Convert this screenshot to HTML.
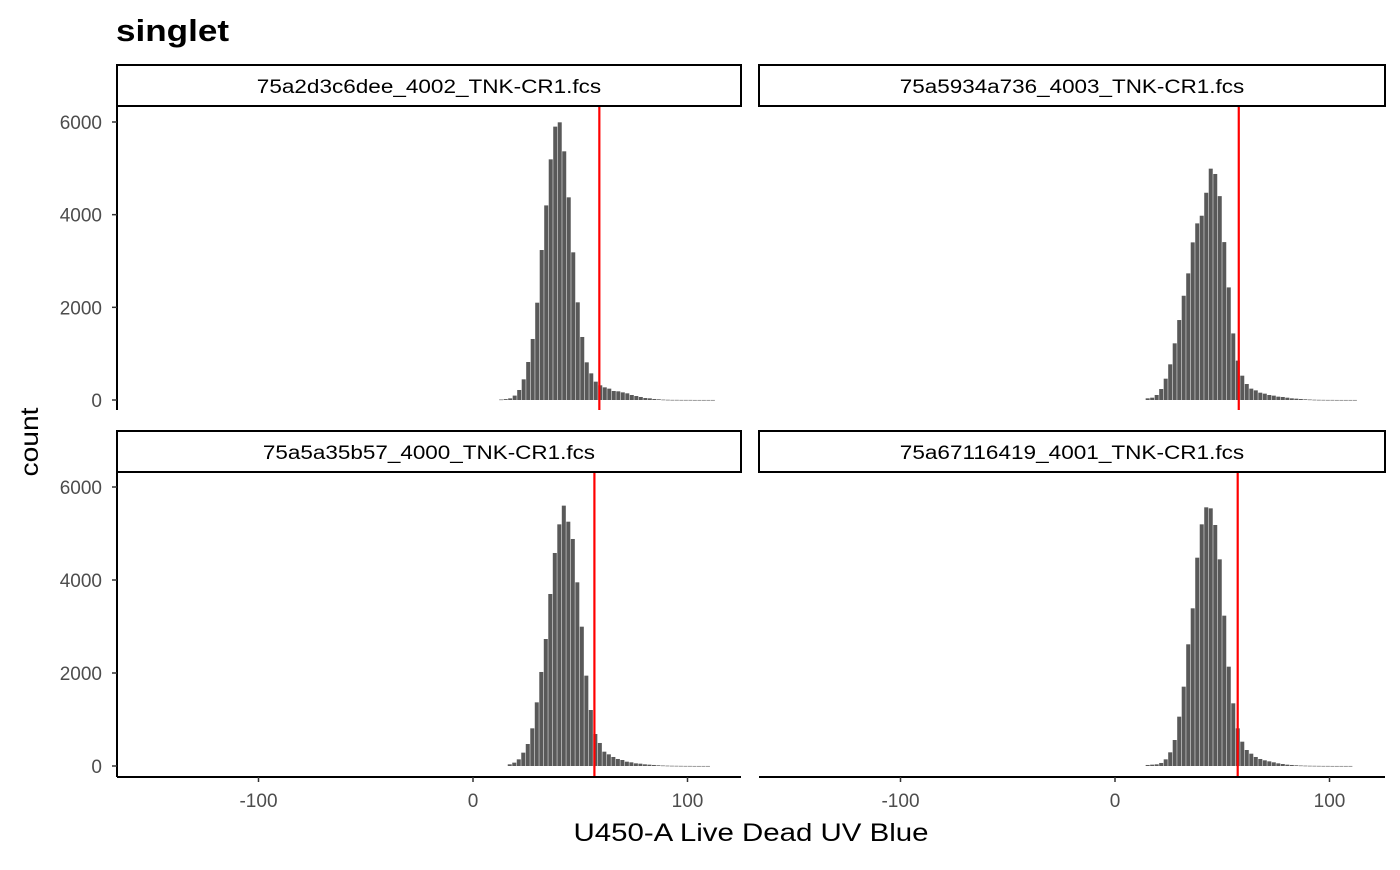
<!DOCTYPE html>
<html><head><meta charset="utf-8"><style>
body{margin:0;background:#fff;}
svg text{font-family:"Liberation Sans",Arial,sans-serif;}
</style></head><body>
<svg id="chart" width="1400" height="865" xmlns="http://www.w3.org/2000/svg">
<text x="116" y="41" font-size="31" font-weight="bold" textLength="113" lengthAdjust="spacingAndGlyphs">singlet</text>
<text transform="translate(38,442) rotate(-90)" font-size="25" text-anchor="middle" textLength="69" lengthAdjust="spacingAndGlyphs">count</text>
<text x="751" y="841" font-size="25" text-anchor="middle" textLength="355" lengthAdjust="spacingAndGlyphs">U450-A Live Dead UV Blue</text>
<g id="panels"></g>
</svg>
<script>
const panelNames = ["75a2d3c6dee_4002_TNK-CR1.fcs","75a5934a736_4003_TNK-CR1.fcs","75a5a35b57_4000_TNK-CR1.fcs","75a67116419_4001_TNK-CR1.fcs"];
const binWidth = 2.1;
const binStarts = [12.2, 14.3, 16.2, 14.3];
const counts1 = [10,20,35,95,216,446,820,1317,2100,3237,4200,5194,5900,5993,5367,4374,3187,2108,1360,813,575,396,317,273,245,194,187,165,144,108,86,65,43,36,22,15,8,5,3,3,2,2,2,1,1,1,1,1];
const counts2 = [36,50,108,237,460,770,1223,1726,2250,2733,3402,3812,3977,4473,4993,4878,4400,3408,2430,1437,850,525,345,245,208,158,137,108,94,72,65,50,36,29,22,15,10,6,4,3,2,2,1,1,1,1,1];
const counts3 = [36,72,143,287,473,810,1369,2022,2731,3699,4581,5197,5599,5254,4882,3950,2996,1943,1204,688,495,308,251,194,151,129,93,79,57,50,36,29,22,15,10,7,5,4,3,2,2,1,1,1,1];
const counts4 = [22,29,36,65,143,294,559,1061,1706,2617,3391,4480,5197,5563,5541,5183,4444,3233,2136,1348,810,523,344,265,194,151,122,100,79,57,43,29,22,15,10,7,5,4,3,2,2,1,1,1,1,1];
const thresholds = [58.9, 57.7, 56.6, 57.2];
const yTicks = [0,2000,4000,6000];
const xTicks = [-100,0,100];
const allCounts = [counts1,counts2,counts3,counts4];
const NS="http://www.w3.org/2000/svg";
const g=document.getElementById('panels');
function mk(tag,attrs,parent){const e=document.createElementNS(NS,tag);for(const k in attrs)e.setAttribute(k,attrs[k]);(parent||g).appendChild(e);return e;}
const panels=[{x0:117,x1:741,top:107,bot:410,zero:400,y6:122,zeroX:473},
{x0:759,x1:1385,top:107,bot:410,zero:400,y6:122,zeroX:1115},
{x0:117,x1:741,top:473,bot:777,zero:766,y6:487,zeroX:473},
{x0:759,x1:1385,top:473,bot:777,zero:766,y6:487,zeroX:1115}];
panels.forEach((p,i)=>{
  const xs=v=>p.zeroX+v*2.145;
  const ys=c=>p.zero-(p.zero-p.y6)*c/6000;
  const strip=mk('rect',{x:p.x0,y:p.top-42,width:p.x1-p.x0,height:41,fill:'#fff',stroke:'#000','stroke-width':2});
  
  
  const st=mk('text',{x:(p.x0+p.x1)/2,y:p.top-14,'font-size':19,'text-anchor':'middle',textLength:panelNames[i].length*12.3,lengthAdjust:'spacingAndGlyphs'});
  st.textContent=panelNames[i];
  
  
  allCounts[i].forEach((c,j)=>{
    const a=binStarts[i]+j*binWidth;
    const r=mk('rect',{x:xs(a),y:ys(c),width:binWidth*2.145-0.5,height:Math.max(ys(0)-ys(c),0.6),fill:'#595959'});
    
    
  });
  const l=mk('line',{x1:xs(thresholds[i]),x2:xs(thresholds[i]),y1:p.top,y2:p.bot,stroke:'#ff0000','stroke-width':2.2});
  
  
  if(i%2===0){
    const ax=mk('line',{x1:p.x0,x2:p.x0,y1:p.top,y2:p.bot,stroke:'#000','stroke-width':2});
    
    
    yTicks.forEach(t=>{
      mk('line',{x1:p.x0-5,x2:p.x0,y1:ys(t),y2:ys(t),stroke:'#333','stroke-width':1.5});
      const tt=mk('text',{x:p.x0-15,y:ys(t)+7,'font-size':19,'text-anchor':'end',fill:'#4d4d4d'});
      tt.textContent=t;
      
      
    });
  }
  if(i>=2){
    const ax=mk('line',{x1:p.x0,x2:p.x1,y1:p.bot,y2:p.bot,stroke:'#000','stroke-width':2});
    
    
    xTicks.forEach(t=>{
      mk('line',{x1:xs(t),x2:xs(t),y1:p.bot,y2:p.bot+5,stroke:'#333','stroke-width':1.5});
      const tt=mk('text',{x:xs(t),y:p.bot+30,'font-size':19,'text-anchor':'middle',fill:'#4d4d4d'});
      tt.textContent=t;
      
      
    });
  }
});
</script>
</body></html>
